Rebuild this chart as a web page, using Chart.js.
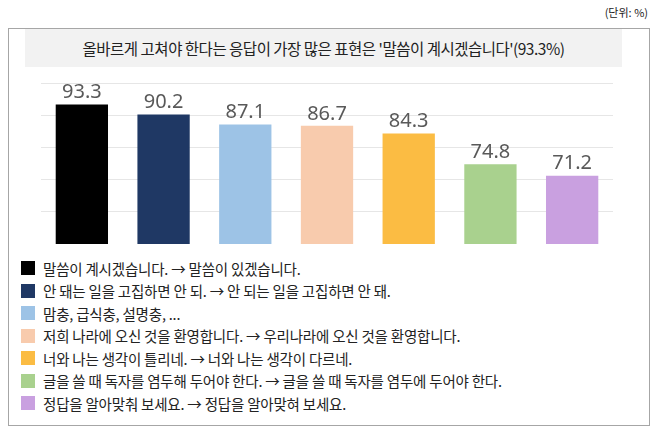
<!DOCTYPE html>
<html><head><meta charset="utf-8">
<script src="https://cdn.jsdelivr.net/npm/chart.js@4"></script>
<style>
body{margin:0;width:658px;height:441px;background:#fff;font-family:"Noto Sans CJK KR",sans-serif;position:relative;overflow:hidden}
#unit{position:absolute;right:10px;top:4px;font-size:11px;color:#222}
#box{position:absolute;left:8px;top:28px;width:640px;height:396px;border:1px solid #a6a6a6}
#title{position:absolute;left:16px;top:0;width:597px;height:38px;background:#f2f2f2;font-size:15.5px;line-height:38px;text-align:center;color:#222;letter-spacing:-0.5px}
#wrap{position:absolute;left:32px;top:40px;width:572px;height:175px}
#legend{position:absolute;left:12px;top:228px;font-size:14.5px;color:#222;letter-spacing:-0.2px}
.li{height:22.5px;display:flex;align-items:center}
.sw{width:14px;height:14px;margin-right:8px}
</style></head><body>
<div id="unit">(단위: %)</div>
<div id="box">
<div id="title">올바르게 고쳐야 한다는 응답이 가장 많은 표현은 '말씀이 계시겠습니다'(93.3%)</div>
<div id="wrap"><canvas id="c"></canvas></div>
<div id="legend"></div>
</div>
<script>
const categories = [
  '말씀이 계시겠습니다. → 말씀이 있겠습니다.',
  '안 돼는 일을 고집하면 안 되. → 안 되는 일을 고집하면 안 돼.',
  '맘충, 급식충, 설명충, ...',
  '저희 나라에 오신 것을 환영합니다. → 우리나라에 오신 것을 환영합니다.',
  '너와 나는 생각이 틀리네. → 너와 나는 생각이 다르네.',
  '글을 쓸 때 독자를 염두해 두어야 한다. → 글을 쓸 때 독자를 염두에 두어야 한다.',
  '정답을 알아맞춰 보세요. → 정답을 알아맞혀 보세요.'
];
const values = [93.3, 90.2, 87.1, 86.7, 84.3, 74.8, 71.2];
const colors = ['#000000','#1f3864','#9dc3e6','#f8cbad','#fbbc43','#a9d18e','#c9a0e0'];

document.getElementById('legend').innerHTML = categories.map((t,i)=>
  `<div class="li"><span class="sw" style="background:${colors[i]}"></span>${t}</div>`).join('');

const labelPlugin = {
  id:'labels',
  afterDatasetsDraw(chart){
    const ctx = chart.ctx;
    ctx.save();
    ctx.font = '20px "Noto Sans", sans-serif';
    ctx.fillStyle = '#595959';
    ctx.textAlign = 'center';
    ctx.textBaseline = 'bottom';
    chart.getDatasetMeta(0).data.forEach((b,i)=>ctx.fillText(values[i].toFixed(1), b.x, b.y-2));
    ctx.restore();
  }
};

new Chart(document.getElementById('c'), {
  type:'bar',
  data:{ labels: categories.map((_,i)=>String(i)), datasets:[{ data: values, backgroundColor: colors, categoryPercentage:0.64, barPercentage:1 }]},
  options:{
    responsive:true, maintainAspectRatio:false, animation:false,
    layout:{padding:{top:14}},
    plugins:{legend:{display:false}, tooltip:{enabled:false}},
    scales:{
      x:{ display:false, grid:{display:false} },
      y:{ min:50, max:100, ticks:{display:false, stepSize:10}, grid:{color:'#e6e6e6', drawTicks:false}, border:{display:false} }
    }
  },
  plugins:[labelPlugin]
});
</script>
</body></html>
